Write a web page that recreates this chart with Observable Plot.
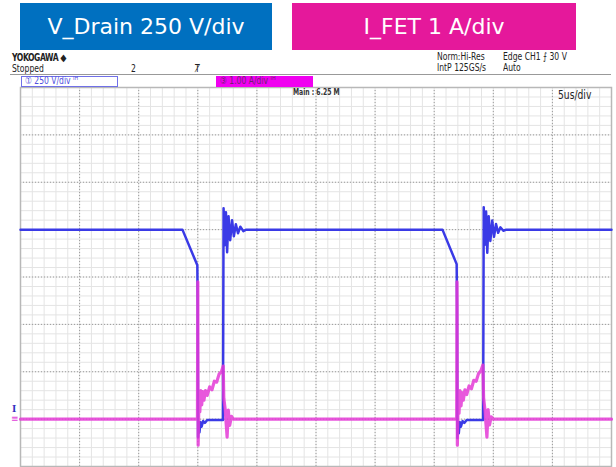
<!DOCTYPE html>
<html><head><meta charset="utf-8">
<script src="https://cdn.jsdelivr.net/npm/d3@7"></script>
<script src="https://cdn.jsdelivr.net/npm/@observablehq/plot@0.6"></script>
<style>
body{margin:0;background:#fff;width:616px;height:467px;overflow:hidden;position:relative;font-family:"DejaVu Sans Condensed",sans-serif;}
#chart{position:absolute;left:0;top:0;}
.a{position:absolute;white-space:nowrap;}
.box{position:absolute;color:#fff;font-family:"DejaVu Sans",sans-serif;font-size:22px;display:flex;align-items:center;justify-content:center;}
.hd{font-size:10px;color:#222;line-height:10px;transform:scaleX(0.85);transform-origin:0 0;font-family:"DejaVu Sans Condensed","DejaVu Sans",sans-serif;}
</style></head>
<body>
<div id="chart"></div>
<div class="box" style="left:20px;top:3px;width:252px;height:47px;background:#0070c0;">V_Drain 250 V/div</div>
<div class="box" style="left:292px;top:3px;width:284px;height:47px;background:#e5189b;">I_FET 1 A/div</div>
<div class="a hd" style="left:12px;top:53px;font-weight:bold;letter-spacing:-0.5px;">YOKOGAWA ◆</div>
<div class="a hd" style="left:12px;top:64px;">Stopped</div>
<div class="a hd" style="left:131px;top:64px;">2</div>
<div class="a hd" style="left:195px;top:64px;">Ⱦ</div>
<div class="a" style="left:10px;top:74px;width:601px;height:0;border-top:1px solid #999;"></div>
<div class="a hd" style="left:437px;top:52px;">Norm:Hi-Res</div>
<div class="a hd" style="left:437px;top:63px;">IntP 125GS/s</div>
<div class="a hd" style="left:503px;top:52px;">Edge CH1 ⨍ 30 V</div>
<div class="a hd" style="left:503px;top:63px;">Auto</div>
<div class="a" style="left:21px;top:76px;border:1px solid #7070e8;background:#fff;box-sizing:border-box;width:97px;height:11px;"><span class="a hd" style="left:3px;top:-1px;color:#5050e0;">① 250 V/div ᴵᴴ</span></div>
<div class="a" style="left:216px;top:76px;width:97px;height:11px;background:#f000f0;"><span class="a hd" style="left:4px;top:0px;color:#702070;">③ 1.00 A/div ᴵᴴ</span></div>
<div class="a hd" style="left:293px;top:89px;font-size:8px;line-height:8px;font-weight:bold;color:#333;">Main : 6.25 M</div>
<div class="a" style="left:558px;top:88px;font-size:12px;color:#222;font-family:'DejaVu Sans Condensed',sans-serif;transform:scaleX(0.85);transform-origin:0 0;">5us/div</div>
<div class="a" style="left:12px;top:402px;font-size:11px;font-weight:bold;color:#3030c0;font-family:'Liberation Serif',serif;">I</div>
<div class="a" style="left:11px;top:413px;font-size:10px;color:#e040d8;">≡</div>
<script>
// time in microseconds (5 us/div), V_Drain in volts (250 V/div), I_FET in amps (1 A/div)
const vTime = [0, 13.7, 14.96, 14.99, 15.02, 15.08, 15.14, 15.22, 15.32, 15.45, 15.6, 15.8, 17.13,
  17.18, 17.27, 17.38, 17.48, 17.6, 17.74, 17.9, 18.05, 18.22, 18.4, 18.6, 18.85, 19.1,
  35.7, 36.9, 36.93, 36.96, 37.02, 37.08, 37.16, 37.26, 37.4, 37.55, 37.75, 39.14,
  39.19, 39.28, 39.39, 39.49, 39.61, 39.75, 39.91, 40.06, 40.23, 40.41, 40.6, 40.85, 41.1, 50];
const vDrain = [1000, 1000, 812, 600, -95, -20, -70, -15, -40, -10, -20, -5, -5,
  1113, 918, 1092, 881, 1071, 944, 1050, 965, 1028, 981, 1015, 992, 1000,
  1000, 818, 600, -100, -25, -75, -15, -40, -10, -20, -5, -5,
  1118, 920, 1095, 878, 1070, 940, 1048, 962, 1030, 983, 1012, 994, 1000, 1000];
const iTime = [0, 14.97, 15.0, 15.03, 15.1, 15.17, 15.25, 15.33, 15.42, 15.52, 15.65, 15.8, 16.0, 16.2, 16.4, 16.6, 16.8, 17.0, 17.15,
  17.2, 17.32, 17.48, 17.58, 17.7, 17.85, 18.0,
  36.9, 36.93, 36.96, 37.03, 37.1, 37.18, 37.27, 37.36, 37.46, 37.6, 37.75, 37.95, 38.15, 38.35, 38.55, 38.75, 38.95, 39.12,
  39.18, 39.3, 39.46, 39.56, 39.68, 39.82, 40.0, 50];
const iFet = [0, 0, 2.9, -0.55, 0.5, 0.15, 0.6, 0.3, 0.58, 0.4, 0.6, 0.5, 0.68, 0.62, 0.8, 0.78, 0.95, 1.0, 1.12,
  0.44, 0.2, -0.38, 0.19, -0.13, 0.06, 0,
  0, 2.9, -0.55, 0.5, 0.12, 0.6, 0.28, 0.56, 0.4, 0.62, 0.52, 0.7, 0.64, 0.82, 0.8, 0.96, 1.02, 1.14,
  0.45, 0.18, -0.38, 0.2, -0.12, 0.05, 0, 0];

const vPerDiv = 250, aPerDiv = 1, groundDiv = 1; // both channel grounds sit 1 div above the bottom
const vData = vTime.map((t, k) => ({t, d: vDrain[k] / vPerDiv + groundDiv}));
const iData = iTime.map((t, k) => ({t, d: iFet[k] / aPerDiv + groundDiv}));

const chart = Plot.plot({
  width: 616, height: 467,
  marginLeft: 20, marginRight: 5, marginTop: 87, marginBottom: 1,
  x: {domain: [0, 50], axis: null},
  y: {domain: [0, 8], axis: null},
  marks: [
    Plot.ruleX(d3.range(0, 50.001, 1), {stroke: "#e4e4e4", strokeWidth: 1}),
    Plot.ruleY(d3.range(0, 8.001, 0.2), {stroke: "#e4e4e4", strokeWidth: 1}),
    Plot.ruleX(d3.range(5, 50, 5), {stroke: "#9a9a9a", strokeDasharray: "1,2"}),
    Plot.ruleY(d3.range(1, 8, 1), {stroke: "#9a9a9a", strokeDasharray: "1,2"}),
    Plot.frame({stroke: "#b8b8b8", strokeWidth: 1.5}),
    Plot.line(vData, {x: "t", y: "d", stroke: "#3a3ae6", strokeWidth: 2.5}),
    Plot.line(iData, {x: "t", y: "d", stroke: "#e43ad6", strokeWidth: 3.2, strokeOpacity: 0.85})
  ]
});
document.getElementById("chart").appendChild(chart);
</script>
</body></html>
